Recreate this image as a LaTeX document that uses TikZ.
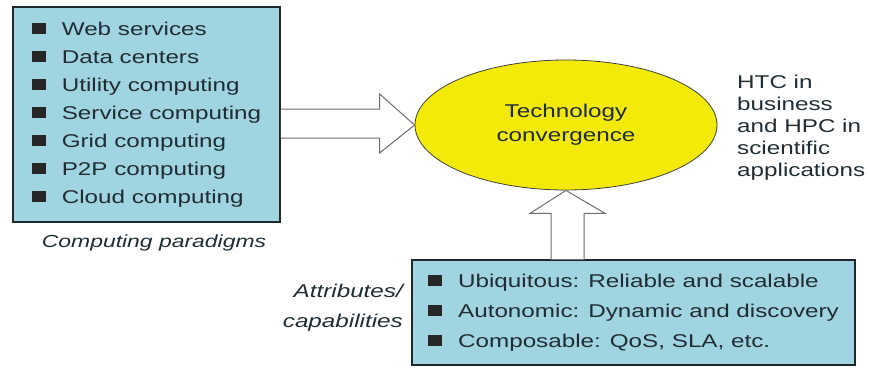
\documentclass[tikz,border=0pt]{standalone}
\usepackage{fontspec}
\setmainfont{Liberation Sans}[FakeStretch=1.31]
\usetikzlibrary{shapes.geometric, positioning, calc}

\definecolor{boxblue}{RGB}{160,212,224}
\definecolor{boxline}{RGB}{30,40,45}
\definecolor{textdark}{RGB}{32,45,52}
\definecolor{convyellow}{RGB}{244,234,10}
\definecolor{arrowgray}{RGB}{110,110,110}

\newcommand{\sqb}{{\color{black!85}\rule[1pt]{14pt}{11pt}}\hspace{16pt}}

\begin{document}
\begin{tikzpicture}[
    x=1pt, y=-1pt,
    every node/.style = {text=textdark, font=\fontsize{18.5}{28}\selectfont},
    listbox/.style    = {rectangle, draw=boxline, line width=1.5pt, fill=boxblue,
                         align=left, inner sep=0pt},
    caption/.style    = {font=\fontsize{18.5}{30}\selectfont\itshape, inner sep=0pt},
    conv/.style       = {ellipse, draw=black!75, line width=0.8pt, fill=convyellow,
                         align=center, inner sep=0pt,
                         minimum width=302pt, minimum height=130pt,
                         font=\fontsize{18.5}{24}\selectfont},
    fatarrow/.style   = {draw=arrowgray, line width=1pt, fill=white, line join=miter}
]
\useasboundingbox (0,0) rectangle (869,367);

% =====================
% Nodes
% =====================

% Computing paradigms
\node[listbox, minimum width=267pt, minimum height=215pt] (paradigms) at (146.5,114.5)
    {\sqb Web services\\ \sqb Data centers\\ \sqb Utility computing\\
     \sqb Service computing\\ \sqb Grid computing\\ \sqb P2P computing\\
     \sqb Cloud computing};
\node[caption, font=\fontsize{17.5}{30}\selectfont\itshape] (paracap) at (154,243)
    {Computing paradigms};

% Convergence
\node[conv] (convergence) at (566,125) {Technology\\convergence};

% HTC / HPC note
\node[anchor=west, align=left, inner sep=0pt, font=\fontsize{18.5}{22}\selectfont]
    (htc) at (737,128) {HTC in\\business\\and HPC in\\scientific\\applications};

% Attributes
\node[listbox, minimum width=443pt, minimum height=105pt,
      font=\fontsize{18.5}{30}\selectfont] (attrib) at (633.5,312.5)
    {\sqb Ubiquitous: Reliable and scalable\\
     \sqb Autonomic: Dynamic and discovery\\
     \sqb Composable: QoS, SLA, etc.};
\node[caption, anchor=east, align=right] (attrcap) at (403,308) {Attributes/\\capabilities};

% =====================
% Fat arrows
% =====================

% paradigms -> convergence
\coordinate (shaftT) at ($(convergence.west)+(-35,-16)$);
\coordinate (shaftB) at ($(convergence.west)+(-35,13)$);
\draw[fatarrow] (shaftT -| paradigms.east) -- (shaftT) -- ++(0,-15)
    -- (convergence.west) -- ($(shaftB)+(0,15)$) -- (shaftB) -- (shaftB -| paradigms.east);

% attributes -> convergence
\coordinate (upL) at ($(convergence.south)+(-15,23)$);
\coordinate (upR) at ($(convergence.south)+(18,23)$);
\draw[fatarrow] (upL |- attrib.north) -- (upL) -- ++(-21,0)
    -- (convergence.south) -- ($(upR)+(21,0)$) -- (upR) -- (upR |- attrib.north);

\end{tikzpicture}
\end{document}
